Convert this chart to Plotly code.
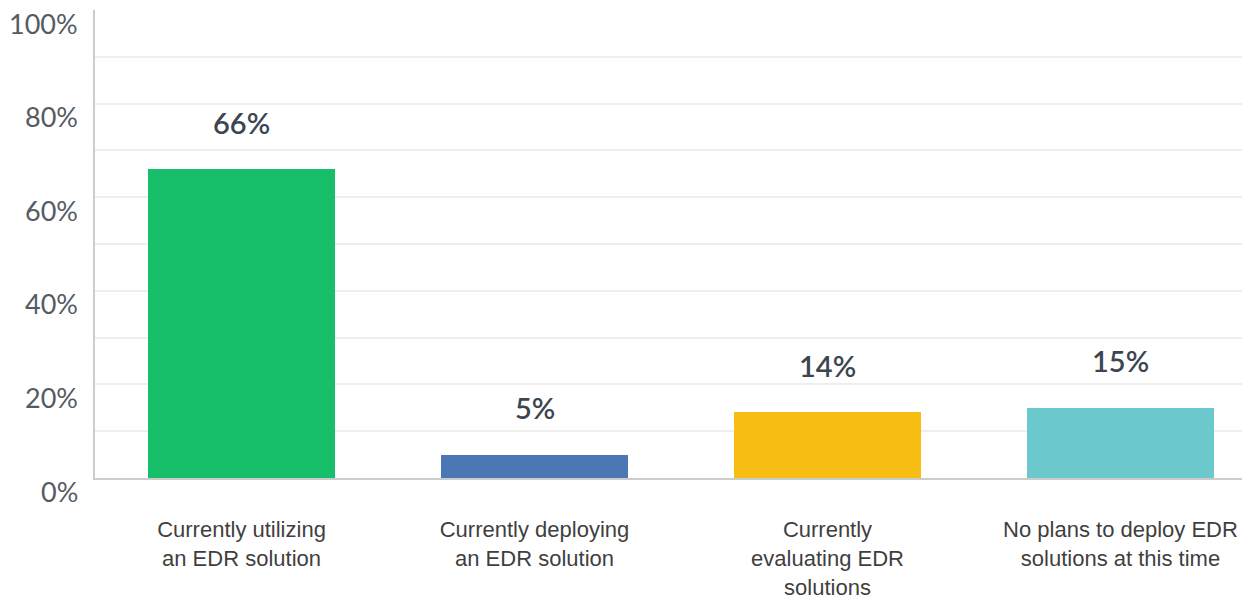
import plotly.graph_objects as go

categories = [
    "Currently utilizing<br>an EDR solution",
    "Currently deploying<br>an EDR solution",
    "Currently<br>evaluating EDR<br>solutions",
    "No plans to deploy EDR<br>solutions at this time",
]
values = [66, 5, 14, 15]
value_labels = ["66%", "5%", "14%", "15%"]
colors = ["#17BF6B", "#4B78B4", "#F7BD13", "#6BC8CC"]
y_ticks = [0, 20, 40, 60, 80, 100]
y_tick_labels = ["0%", "20%", "40%", "60%", "80%", "100%"]
grid_vals = [10, 20, 30, 40, 50, 60, 70, 80, 90]

x = list(range(len(categories)))

fig = go.Figure()
fig.add_trace(go.Bar(
    x=x, y=values, marker=dict(color=colors, line=dict(width=0)),
    width=0.64, hoverinfo="skip",
))

annotations = []
for xi, v, t in zip(x, values, value_labels):
    annotations.append(dict(
        x=xi, y=v, xref="x", yref="y", text=t, showarrow=False,
        yanchor="middle", yshift=47,
        font=dict(family="Lato", size=29, color="#3D4551", weight=600),
    ))
for v, t in zip(y_ticks, y_tick_labels):
    annotations.append(dict(
        x=0, y=v, xref="paper", yref="y", text=t, showarrow=False,
        xanchor="right", yanchor="middle", xshift=-15, yshift=-13,
        font=dict(family="Lato", size=27, color="#555B63"),
    ))

fig.update_layout(
    width=1242, height=590,
    margin=dict(l=87, r=0, t=2, b=120),
    paper_bgcolor="white", plot_bgcolor="white",
    showlegend=False,
    bargap=0,
    annotations=annotations,
    xaxis=dict(
        range=[-0.5, 3.442], tickvals=x, ticktext=categories,
        showgrid=False, zeroline=False, automargin=False,
        showline=True, linecolor="#CCCCCC", linewidth=2,
        ticks="", ticklabelstandoff=31,
        tickfont=dict(family="Liberation Sans, Arial", size=22, color="#3F3F3F"),
        fixedrange=True,
    ),
    yaxis=dict(
        range=[0, 100], tickvals=grid_vals, showticklabels=False,
        showgrid=True, gridcolor="#EEEEEE", gridwidth=1.5,
        zeroline=False, showline=True, linecolor="#CCCCCC", linewidth=2,
        ticks="", fixedrange=True, automargin=False,
    ),
)

fig.write_html("out.html")
